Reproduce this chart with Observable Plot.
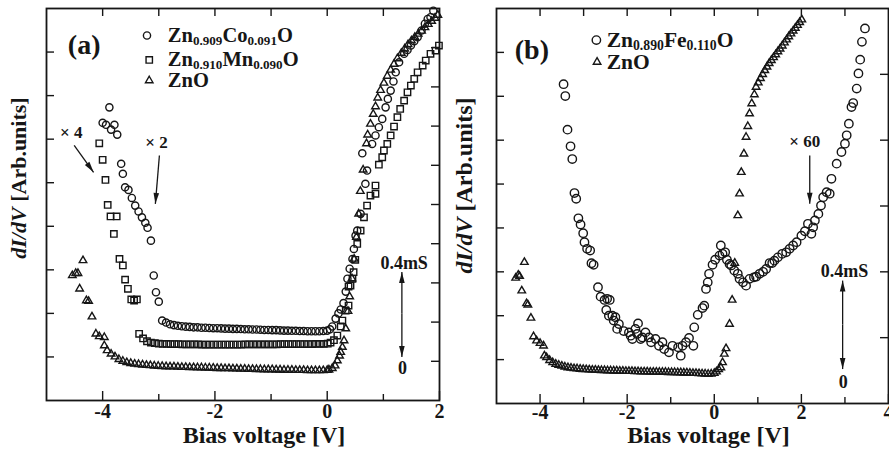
<!DOCTYPE html>
<html>
<head>
<meta charset="utf-8">
<script src="https://cdn.jsdelivr.net/npm/d3@7"></script>
<script src="https://cdn.jsdelivr.net/npm/@observablehq/plot@0.6"></script>
<style>
  html, body { margin: 0; padding: 0; background: #fff; }
  #fig { display: flex; width: 889px; height: 456px; }
  #fig svg { display: block; flex: none; }
</style>
</head>
<body>
<div id="fig"></div>
<script>
// Tunnelling spectra dI/dV vs bias voltage (arbitrary units, 0.4 mS scale bar).
// Each series: [bias voltage (V), dI/dV (arb.)]

// ---- panel (a) ----
const coSteep = [
  [-4.00,1.075],[-3.94,1.066],[-3.88,1.146],[-3.85,1.044],[-3.79,1.066],[-3.74,1.021],
  [-3.67,0.887],[-3.64,0.841],[-3.60,0.779],[-3.54,0.767],[-3.48,0.730],[-3.42,0.695],
  [-3.36,0.668],[-3.30,0.641],[-3.24,0.616],[-3.20,0.593],[-3.14,0.534],[-3.09,0.374],
  [-3.05,0.297],[-3.00,0.254],[-2.94,0.167]
];
const coFlat = [
  [-2.87,0.158],[-2.80,0.150],[-2.73,0.146],[-2.66,0.143],[-2.59,0.141],[-2.52,0.139],
  [-2.45,0.138],[-2.38,0.136],[-2.31,0.136],[-2.24,0.134],[-2.17,0.134],[-2.10,0.133],
  [-2.03,0.132],[-1.96,0.132],[-1.89,0.131],[-1.82,0.130],[-1.75,0.130],[-1.68,0.129],
  [-1.61,0.129],[-1.54,0.128],[-1.47,0.127],[-1.40,0.127],[-1.33,0.126],[-1.26,0.126],
  [-1.19,0.125],[-1.12,0.124],[-1.05,0.124],[-0.98,0.123],[-0.91,0.123],[-0.84,0.122],
  [-0.77,0.121],[-0.70,0.121],[-0.63,0.120],[-0.56,0.120],[-0.49,0.119],[-0.42,0.119],
  [-0.35,0.118],[-0.28,0.118],[-0.21,0.118],[-0.14,0.118],[-0.07,0.119],[0.00,0.121]
];
const coRise = [
  [0.05,0.127],[0.09,0.140],[0.15,0.176],[0.20,0.200],[0.24,0.218],[0.29,0.247],
  [0.33,0.300],[0.36,0.359],[0.40,0.405],[0.45,0.450],[0.475,0.496],[0.505,0.557],
  [0.535,0.580],[0.595,0.657],[0.625,0.935],[0.68,0.795],[0.71,0.856],[0.80,0.978],
  [0.86,1.017],[0.92,1.055],[0.98,1.093],[1.04,1.146],[1.08,1.185],[1.13,1.223],
  [1.18,1.265],[1.22,1.307],[1.28,1.353],[1.37,1.392],[1.43,1.410],[1.49,1.430],
  [1.55,1.450],[1.61,1.468],[1.68,1.499],[1.74,1.530],[1.79,1.552],[1.84,1.560],[1.89,1.590]
];

const mnSteep = [
  [-4.06,0.981],[-4.00,0.905],[-3.95,0.813],[-3.91,0.698],[-3.86,0.645],[-3.75,0.645],
  [-3.80,0.565],[-3.70,0.450],[-3.64,0.420],[-3.60,0.355],[-3.55,0.313],[-3.49,0.264],
  [-3.44,0.259],[-3.39,0.264],[-3.35,0.106]
];
const mnFlat = [
  [-3.28,0.085],[-3.21,0.072],[-3.14,0.066],[-3.07,0.063],[-3.00,0.061],[-2.93,0.060],
  [-2.86,0.060],[-2.79,0.059],[-2.72,0.059],[-2.65,0.059],[-2.58,0.058],[-2.51,0.058],
  [-2.44,0.058],[-2.37,0.058],[-2.30,0.058],[-2.23,0.057],[-2.16,0.057],[-2.09,0.057],
  [-2.02,0.057],[-1.95,0.057],[-1.88,0.057],[-1.81,0.057],[-1.74,0.057],[-1.67,0.057],
  [-1.60,0.057],[-1.53,0.057],[-1.46,0.058],[-1.39,0.058],[-1.32,0.058],[-1.25,0.058],
  [-1.18,0.058],[-1.11,0.058],[-1.04,0.058],[-0.97,0.058],[-0.90,0.058],[-0.83,0.059],
  [-0.76,0.059],[-0.69,0.059],[-0.62,0.059],[-0.55,0.059],[-0.48,0.059],[-0.41,0.059],
  [-0.34,0.059],[-0.27,0.059],[-0.20,0.060],[-0.13,0.060],[-0.06,0.060],[0.01,0.061]
];
const mnRise = [
  [0.06,0.066],[0.12,0.077],[0.18,0.098],[0.24,0.140],[0.27,0.167],[0.33,0.213],
  [0.38,0.236],[0.38,0.323],[0.415,0.328],[0.45,0.359],[0.47,0.389],[0.50,0.446],
  [0.535,0.519],[0.595,0.580],[0.655,0.641],[0.71,0.695],[0.77,0.741],[0.86,0.787],
  [0.86,0.749],[0.92,0.883],[0.98,0.917],[1.01,0.948],[1.07,0.978],[1.13,1.017],
  [1.19,1.058],[1.25,1.101],[1.30,1.139],[1.37,1.177],[1.43,1.215],[1.49,1.246],
  [1.55,1.277],[1.61,1.307],[1.70,1.338],[1.755,1.361],[1.84,1.392],[1.93,1.407],[1.99,1.430]
];

const znoASteep = [
  [-4.54,0.374],[-4.48,0.384],[-4.44,0.384],[-4.35,0.443],[-4.41,0.313],[-4.29,0.259],
  [-4.25,0.256],[-4.19,0.185],[-4.12,0.106],[-4.06,0.094],[-3.97,0.090],[-3.97,0.052],[-3.92,0.030]
];
const znoAFlat = [
  [-3.85,0.014],[-3.78,0.001],[-3.71,-0.011],[-3.64,-0.019],[-3.57,-0.025],[-3.50,-0.029],
  [-3.43,-0.032],[-3.36,-0.034],[-3.29,-0.036],[-3.22,-0.038],[-3.15,-0.039],[-3.08,-0.041],
  [-3.01,-0.042],[-2.94,-0.043],[-2.87,-0.044],[-2.80,-0.045],[-2.73,-0.045],[-2.66,-0.046],
  [-2.59,-0.047],[-2.52,-0.047],[-2.45,-0.048],[-2.38,-0.048],[-2.31,-0.049],[-2.24,-0.049],
  [-2.17,-0.050],[-2.10,-0.050],[-2.03,-0.051],[-1.96,-0.052],[-1.89,-0.052],[-1.82,-0.053],
  [-1.75,-0.053],[-1.68,-0.054],[-1.61,-0.054],[-1.54,-0.055],[-1.47,-0.055],[-1.40,-0.056],
  [-1.33,-0.056],[-1.26,-0.057],[-1.19,-0.057],[-1.12,-0.058],[-1.05,-0.058],[-0.98,-0.058],
  [-0.91,-0.059],[-0.84,-0.059],[-0.77,-0.060],[-0.70,-0.060],[-0.63,-0.060],[-0.56,-0.061],
  [-0.49,-0.061],[-0.42,-0.061],[-0.35,-0.062],[-0.28,-0.062],[-0.21,-0.062],[-0.14,-0.062],
  [-0.07,-0.062],[0.00,-0.061],[0.03,-0.059]
];
const znoARise = [
  [0.09,-0.052],[0.14,-0.040],[0.18,-0.017],[0.22,0.005],[0.24,0.022],[0.27,0.045],
  [0.30,0.075],[0.33,0.130],[0.37,0.210],[0.40,0.277],[0.44,0.360],[0.48,0.450],
  [0.52,0.550],[0.56,0.657],[0.59,0.761],[0.64,0.859],[0.70,0.980],[0.72,1.020],
  [0.77,1.070],[0.82,1.115],[0.86,1.150],[0.90,1.190],[0.95,1.225],[1.01,1.258],
  [1.07,1.290],[1.13,1.318],[1.19,1.345],[1.25,1.370],[1.32,1.395],[1.38,1.415],
  [1.44,1.435],[1.50,1.452],[1.56,1.468],[1.62,1.483],[1.68,1.497],[1.74,1.513],
  [1.80,1.528],[1.86,1.542],[1.92,1.556],[1.97,1.570]
];

// ---- panel (b) ----
const feData = [
  [-3.46,1.255],[-3.42,1.201],[-3.37,1.048],[-3.30,0.972],[-3.26,0.914],[-3.21,0.759],
  [-3.17,0.733],[-3.12,0.644],[-3.07,0.616],[-3.01,0.576],[-2.98,0.535],[-2.92,0.505],
  [-2.85,0.497],[-2.82,0.439],[-2.77,0.432],[-2.67,0.330],[-2.61,0.287],[-2.52,0.272],
  [-2.46,0.277],[-2.48,0.226],[-2.42,0.200],[-2.40,0.272],[-2.34,0.200],[-2.31,0.178],
  [-2.27,0.193],[-2.23,0.140],[-2.19,0.162],[-2.08,0.130],[-1.96,0.124],[-1.92,0.109],
  [-1.88,0.094],[-1.81,0.140],[-1.75,0.165],[-1.77,0.117],[-1.69,0.094],[-1.65,0.101],
  [-1.58,0.124],[-1.50,0.101],[-1.45,0.079],[-1.35,0.094],[-1.27,0.063],[-1.19,0.079],
  [-1.15,0.048],[-1.04,0.033],[-0.96,0.063],[-0.83,0.056],[-0.77,0.018],[-0.73,0.063],
  [-0.65,0.079],[-0.58,0.099],[-0.48,0.063],[-0.46,0.147],[-0.38,0.204],[-0.27,0.235],
  [-0.23,0.246],[-0.19,0.322],[-0.15,0.352],[-0.12,0.391],[-0.04,0.432],[0.02,0.455],
  [0.12,0.474],[0.15,0.520],[0.19,0.482],[0.25,0.489],[0.29,0.455],[0.35,0.436],
  [0.39,0.429],[0.46,0.406],[0.54,0.391],[0.58,0.368],[0.66,0.352],[0.73,0.337],
  [0.81,0.368],[0.91,0.375],[0.96,0.378],[1.04,0.391],[1.12,0.400],[1.19,0.413],
  [1.27,0.440],[1.33,0.440],[1.38,0.451],[1.46,0.466],[1.56,0.482],[1.65,0.489],
  [1.73,0.505],[1.81,0.520],[1.89,0.535],[2.00,0.565],[2.08,0.585],[2.15,0.619],
  [2.23,0.573],[2.27,0.603],[2.31,0.634],[2.39,0.664],[2.45,0.702],[2.50,0.740],
  [2.58,0.763],[2.65,0.756],[2.69,0.824],[2.81,0.893],[2.92,0.946],[3.00,0.984],
  [3.04,1.022],[3.09,1.075],[3.15,1.151],[3.19,1.169],[3.27,1.235],[3.31,1.304],
  [3.35,1.367],[3.39,1.448],[3.46,1.509]
];
const znoBSteep = [
  [-4.56,0.372],[-4.50,0.386],[-4.47,0.380],[-4.36,0.444],[-4.42,0.314],[-4.31,0.256],
  [-4.28,0.250],[-4.21,0.190],[-4.15,0.105],[-4.08,0.086],[-4.00,0.075],[-3.92,0.063],[-3.90,0.018]
];
const znoBFlat = [
  [-3.85,0.010],[-3.78,-0.003],[-3.71,-0.013],[-3.64,-0.020],[-3.57,-0.025],[-3.50,-0.029],
  [-3.43,-0.033],[-3.36,-0.036],[-3.29,-0.038],[-3.22,-0.040],[-3.15,-0.041],[-3.08,-0.043],
  [-3.01,-0.044],[-2.94,-0.045],[-2.87,-0.046],[-2.80,-0.047],[-2.73,-0.047],[-2.66,-0.048],
  [-2.59,-0.049],[-2.52,-0.049],[-2.45,-0.050],[-2.38,-0.050],[-2.31,-0.051],[-2.24,-0.051],
  [-2.17,-0.052],[-2.10,-0.052],[-2.03,-0.053],[-1.96,-0.053],[-1.89,-0.053],[-1.82,-0.054],
  [-1.75,-0.054],[-1.68,-0.055],[-1.61,-0.055],[-1.54,-0.055],[-1.47,-0.056],[-1.40,-0.056],
  [-1.33,-0.056],[-1.26,-0.057],[-1.19,-0.057],[-1.12,-0.057],[-1.05,-0.058],[-0.98,-0.058],
  [-0.91,-0.058],[-0.84,-0.059],[-0.77,-0.059],[-0.70,-0.060],[-0.63,-0.060],[-0.56,-0.061],
  [-0.49,-0.062],[-0.42,-0.062],[-0.35,-0.063],[-0.28,-0.064],[-0.21,-0.065],[-0.14,-0.066],
  [-0.07,-0.065],[0.00,-0.062]
];
const znoBRise = [
  [0.05,-0.055],[0.10,-0.045],[0.15,-0.036],[0.19,-0.013],[0.23,0.026],[0.27,0.051],
  [0.35,0.162],[0.41,0.272],[0.47,0.440],[0.54,0.657],[0.58,0.756],[0.62,0.854],
  [0.68,0.938],[0.73,1.014],[0.77,1.063],[0.81,1.121],[0.86,1.167],[0.92,1.208],
  [0.96,1.242],[1.01,1.262],[1.06,1.282],[1.11,1.300],[1.16,1.318],[1.21,1.334],
  [1.26,1.350],[1.31,1.364],[1.36,1.377],[1.41,1.390],[1.46,1.404],[1.51,1.416],
  [1.56,1.430],[1.61,1.444],[1.66,1.458],[1.71,1.472],[1.76,1.485],[1.81,1.498],
  [1.86,1.511],[1.91,1.524],[1.96,1.537],[2.01,1.549]
];

// ---- axes ----
const xMajorA = [-4, -2, 0, 2];
const xMinorA = [-3, -1, 1];
const xTopA = [-4, -3, -2, -1, 0, 1];
const xMajorB = [-4, -2, 0, 2, 4];
const xMinorB = [-3, -1, 1, 3];
const xTopB = [-4, -3, -2, -1, 0, 1, 2, 3];
const yLeft = [0, 0.2, 0.4, 0.6, 0.8, 1.0, 1.2, 1.4];
const yRightA = [-0.02, 0.16, 0.34, 0.52, 0.70, 0.88, 1.06, 1.24, 1.42];
const yRightB = [0.1, 0.4, 0.7, 1.0, 1.3];

const INK = "#161616";
const SERIF = "'Liberation Serif','Times New Roman',Times,serif";

// slender filled arrowhead, tip at the origin, pointing up
const arrowHead = {
  draw(ctx) { ctx.moveTo(0, 0); ctx.lineTo(-2.8, 11); ctx.lineTo(2.8, 11); ctx.closePath(); }
};

// text with subscripts / italics, placed at data coords or beside the frame
function richText(spec) {
  return (index, scales, values, dims) => {
    let px, py;
    if (spec.side) {
      px = dims.marginLeft + spec.dx;
      py = dims.marginTop + (dims.height - dims.marginTop - dims.marginBottom) / 2 + spec.dy;
    } else {
      px = scales.x(spec.x);
      py = scales.y(spec.y);
    }
    const t = d3.create("svg:text")
      .attr("transform", `translate(${px},${py})` + (spec.rotate ? ` rotate(${spec.rotate})` : ""))
      .attr("y", spec.rotate ? 0 : spec.size * 0.34)
      .attr("text-anchor", spec.anchor || "start")
      .attr("font-family", SERIF)
      .attr("font-weight", "bold")
      .attr("font-size", spec.size)
      .attr("fill", INK);
    let shift = 0;
    for (const p of spec.parts) {
      const s = t.append("tspan").text(p.t);
      const want = p.sub ? spec.subShift : 0;
      if (want !== shift) { s.attr("dy", want - shift); shift = want; }
      if (p.sub) s.attr("font-size", spec.size * 0.64);
      if (p.italic) s.attr("font-style", "italic");
    }
    return t.node();
  };
}

const yTitleParts = [{t: "dI/dV", italic: true}, {t: " [Arb.units]"}];

function panel(c) {
  const fw = c.width - c.ml - c.mr;
  const fh = 456 - c.mt - c.mb;
  const txt = {fontFamily: SERIF, fontWeight: "bold", fill: INK};
  const marks = [
    Plot.frame({stroke: INK, strokeWidth: 1.8}),
    // inward ticks on all four sides
    Plot.ruleX(c.xMajor, {x: d => d, insetTop: fh - 9, stroke: INK, strokeWidth: 1.4}),
    Plot.ruleX(c.xMinor, {x: d => d, insetTop: fh - 6, stroke: INK, strokeWidth: 1.4}),
    Plot.ruleX(c.xTop, {x: d => d, insetBottom: fh - 8, stroke: INK, strokeWidth: 1.4}),
    Plot.ruleY(yLeft, {y: d => d, insetRight: fw - 8, stroke: INK, strokeWidth: 1.4}),
    Plot.ruleY(c.yRight, {y: d => d, insetLeft: fw - 8, stroke: INK, strokeWidth: 1.4}),
    Plot.text(c.xMajor, {x: d => d, frameAnchor: "bottom", dy: c.tickDy, text: d => String(d), fontSize: 20, ...txt}),
    Plot.text(["Bias voltage [V]"], {frameAnchor: "bottom", dx: c.titleDx, dy: c.titleDy, text: d => d, fontSize: 24, ...txt}),
    richText({side: true, dx: c.yTitleDx, dy: c.yTitleDy, rotate: -90, anchor: "middle", size: c.yTitleSize, parts: yTitleParts}),
    Plot.text([c.tag], {x: d => d.x, y: d => d.y, text: d => d.t, textAnchor: "start", fontSize: 28, ...txt}),
    Plot.text(c.factors, {x: d => d.x, y: d => d.y, text: d => d.t, textAnchor: "start", fontSize: 17, ...txt}),
    Plot.text(c.scaleLabels, {x: d => d.x, y: d => d.y, text: d => d.t, textAnchor: "middle", fontSize: 18, ...txt}),
    Plot.link(c.arrows, {x1: d => d.x1, y1: d => d.y1, x2: d => d.x2, y2: d => d.y2, stroke: INK, strokeWidth: 1.3}),
    Plot.dot(c.heads, {x: d => d.x, y: d => d.y, rotate: d => d.rot, symbol: arrowHead, fill: INK, stroke: "none"})
  ];
  for (const s of c.series) {
    marks.push(Plot.dot(s.data, {x: d => d[0], y: d => d[1], symbol: s.symbol, r: s.r, fill: "none", stroke: INK, strokeWidth: 1.4}));
    marks.push(Plot.dot([s.key], {x: d => d.x, y: d => d.y, symbol: s.symbol, r: s.r, fill: "none", stroke: INK, strokeWidth: 1.4}));
    marks.push(richText({x: s.key.tx, y: s.key.y, size: c.keySize, subShift: 3, parts: s.label}));
  }
  return Plot.plot({
    width: c.width, height: 456,
    marginLeft: c.ml, marginRight: c.mr, marginTop: c.mt, marginBottom: c.mb,
    x: {domain: c.xDomain, axis: null},
    y: {domain: [-0.2, 1.6], axis: null},
    style: {background: "white", overflow: "visible"},
    marks
  });
}

const figA = panel({
  width: 450, ml: 46, mr: 11, mt: 8, mb: 56,
  xDomain: [-5, 2], xMajor: xMajorA, xMinor: xMinorA, xTop: xTopA, yRight: yRightA,
  tickDy: 17, titleDx: 21, titleDy: 42,
  yTitleDx: -20, yTitleDy: -26, yTitleSize: 22, keySize: 20.5,
  tag: {x: -4.62, y: 1.43, t: "(a)"},
  series: [
    {data: [...coSteep, ...coFlat, ...coRise], symbol: "circle", r: 3.6,
     key: {x: -3.21, y: 1.476, tx: -2.83},
     label: [{t: "Zn"}, {t: "0.909", sub: true}, {t: "Co"}, {t: "0.091", sub: true}, {t: "O"}]},
    {data: [...mnSteep, ...mnFlat, ...mnRise], symbol: "square", r: 3.6,
     key: {x: -3.17, y: 1.364, tx: -2.83},
     label: [{t: "Zn"}, {t: "0.910", sub: true}, {t: "Mn"}, {t: "0.090", sub: true}, {t: "O"}]},
    {data: [...znoASteep, ...znoAFlat, ...znoARise], symbol: "triangle", r: 2.8,
     key: {x: -3.17, y: 1.269, tx: -2.83},
     label: [{t: "ZnO"}]}
  ],
  factors: [
    {x: -4.76, y: 1.032, t: "× 4"},
    {x: -3.24, y: 0.986, t: "× 2"}
  ],
  scaleLabels: [
    {x: 1.37, y: 0.431, t: "0.4mS"},
    {x: 1.34, y: -0.051, t: "0"}
  ],
  arrows: [
    {x1: -4.507, y1: 0.971, x2: -4.161, y2: 0.848},
    {x1: -2.989, y1: 0.925, x2: -3.061, y2: 0.703},
    {x1: 1.33, y1: 0.20, x2: 1.33, y2: 0.39},
    {x1: 1.33, y1: 0.20, x2: 1.33, y2: 0.0}
  ],
  heads: [
    {x: -4.161, y: 0.848, rot: 144},
    {x: -3.061, y: 0.703, rot: 185},
    {x: 1.33, y: 0.39, rot: 0},
    {x: 1.33, y: 0.0, rot: 180}
  ]
});

const figB = panel({
  width: 439, ml: 46, mr: 1, mt: 8, mb: 53,
  xDomain: [-5, 4], xMajor: xMajorB, xMinor: xMinorB, xTop: xTopB, yRight: yRightB,
  tickDy: 15, titleDx: 16, titleDy: 39,
  yTitleDx: -24, yTitleDy: -20, yTitleSize: 24, keySize: 21.5,
  tag: {x: -4.58, y: 1.41, t: "(b)"},
  series: [
    {data: feData, symbol: "circle", r: 4.2,
     key: {x: -2.707, y: 1.456, tx: -2.46},
     label: [{t: "Zn"}, {t: "0.890", sub: true}, {t: "Fe"}, {t: "0.110", sub: true}, {t: "O"}]},
    {data: [...znoBSteep, ...znoBFlat, ...znoBRise], symbol: "triangle", r: 2.8,
     key: {x: -2.691, y: 1.356, tx: -2.46},
     label: [{t: "ZnO"}]}
  ],
  factors: [
    {x: 1.72, y: 0.995, t: "× 60"}
  ],
  scaleLabels: [
    {x: 2.99, y: 0.401, t: "0.4mS"},
    {x: 2.96, y: -0.104, t: "0"}
  ],
  arrows: [
    {x1: 2.192, y1: 0.930, x2: 2.192, y2: 0.710},
    {x1: 2.947, y1: 0.16, x2: 2.947, y2: 0.36},
    {x1: 2.947, y1: 0.16, x2: 2.947, y2: -0.043}
  ],
  heads: [
    {x: 2.192, y: 0.710, rot: 180},
    {x: 2.947, y: 0.36, rot: 0},
    {x: 2.947, y: -0.043, rot: 180}
  ]
});

const fig = document.getElementById("fig");
fig.append(figA, figB);
</script>
</body>
</html>
